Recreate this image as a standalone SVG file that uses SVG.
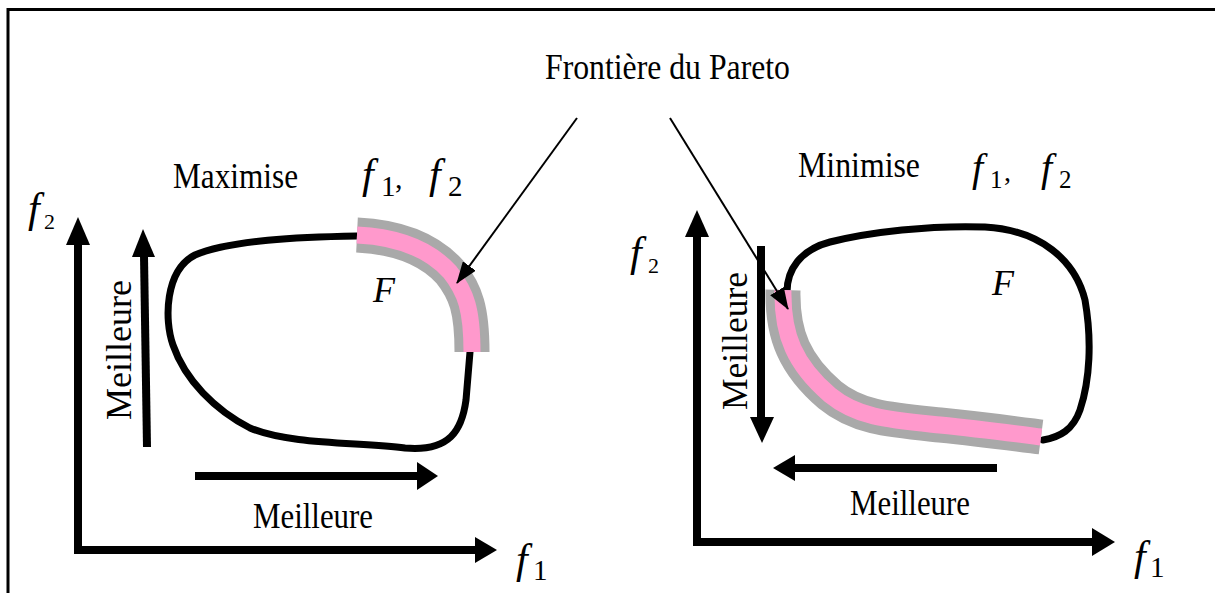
<svg xmlns="http://www.w3.org/2000/svg" width="1215" height="593" viewBox="0 0 1215 593">
<style>
.t{font-family:"Liberation Serif","Times New Roman",serif;fill:#000}
.i{font-family:"Liberation Serif","Times New Roman",serif;font-style:italic;fill:#000}
.ax{fill:none;stroke:#000;stroke-width:8;stroke-linejoin:miter}
.thick{fill:none;stroke:#000;stroke-width:8}
.hd{fill:#000}
.reg{fill:none;stroke:#000;stroke-width:7;stroke-linecap:round}
.bandg{fill:none;stroke:#a9a9a9;stroke-width:35}
.bandp{fill:none;stroke:#ff99cc;stroke-width:17}
.thin{fill:none;stroke:#000;stroke-width:2}
</style>
<defs>
<marker id="ah" markerUnits="userSpaceOnUse" markerWidth="22" markerHeight="16" refX="21" refY="8" orient="auto">
<path d="M0,0 L22,8 L0,16 z" fill="#000"/>
</marker>
</defs>
<rect width="1215" height="593" fill="#fff"/>
<path d="M8,593 V9.5 H1215" fill="none" stroke="#000" stroke-width="3"/>

<g id="title">
<text class="t" x="545" y="79" font-size="35" textLength="245" lengthAdjust="spacingAndGlyphs">Frontière du Pareto</text>
</g>

<g id="left-panel">
<g id="left-axes">
<path class="ax" d="M78,243 V550 H477"/>
<polygon class="hd" points="66,245 78,217 90,245"/>
<polygon class="hd" points="475,537 497,550 475,563"/>
<text class="i" x="28" y="222" font-size="42">f</text>
<text class="t" x="44" y="229" font-size="22">2</text>
<text class="i" x="516" y="573" font-size="42">f</text>
<text class="t" x="533" y="580" font-size="29">1</text>
</g>
<g id="left-labels">
<text class="t" x="173" y="188" font-size="35" textLength="125" lengthAdjust="spacingAndGlyphs">Maximise</text>
<text class="i" x="362" y="188" font-size="42">f</text>
<text class="t" x="381" y="196" font-size="29">1</text>
<text class="t" x="395" y="188" font-size="30">,</text>
<text class="i" x="429" y="188" font-size="42">f</text>
<text class="t" x="448" y="196" font-size="29">2</text>
</g>
<g id="left-region">
<path class="reg" d="M357,236 C300,237 230,240 195,255 C165,270 164,320 173,345 C185,380 215,410 250,428 C290,445 360,442 405,448 C450,452 462,430 466,400 L470,352"/>
<path class="bandg" d="M357,235 C400,237 430,250 450,272 C466,292 472,310 472,352"/>
<path class="bandp" d="M357,235 C400,237 430,250 450,272 C466,292 472,310 472,352"/>
<text class="i" x="373" y="302" font-size="36">F</text>
</g>
<g id="left-better">
<path class="thick" d="M147,447 L144,256" stroke-width="7"/>
<polygon class="hd" points="132,257 143,229 155,257"/>
<text class="t" transform="translate(131,420) rotate(-90)" font-size="35" textLength="140" lengthAdjust="spacingAndGlyphs">Meilleure</text>
<path class="thick" d="M195,476 H418"/>
<polygon class="hd" points="417,462 438,476 417,490"/>
<text class="t" x="253" y="528" font-size="35" textLength="120" lengthAdjust="spacingAndGlyphs">Meilleure</text>
</g>
</g>

<g id="right-panel">
<g id="right-axes">
<path class="ax" d="M697,236 V542 H1093"/>
<polygon class="hd" points="685,237 697,210 709,237"/>
<polygon class="hd" points="1092,528 1115,542 1092,556"/>
<text class="i" x="630" y="266" font-size="42">f</text>
<text class="t" x="648" y="273" font-size="22">2</text>
<text class="i" x="1134" y="570" font-size="42">f</text>
<text class="t" x="1150" y="577" font-size="29">1</text>
</g>
<g id="right-labels">
<text class="t" x="798" y="177" font-size="35" textLength="122" lengthAdjust="spacingAndGlyphs">Minimise</text>
<text class="i" x="972" y="181" font-size="40">f</text>
<text class="t" x="990" y="188" font-size="25">1</text>
<text class="t" x="1004" y="181" font-size="28">,</text>
<text class="i" x="1041" y="181" font-size="40">f</text>
<text class="t" x="1059" y="188" font-size="25">2</text>
</g>
<g id="right-region">
<path class="reg" d="M787,292 C787,270 800,250 830,242 C870,232 930,225 985,227 C1040,230 1075,260 1085,300 C1092,340 1090,380 1080,410 C1073,430 1060,437 1043,440"/>
<path class="bandg" d="M783,290 C782,335 795,365 830,395 C858,418 890,420 940,425 C980,429 1010,433 1041,437"/>
<path class="bandp" d="M783,290 C782,335 795,365 830,395 C858,418 890,420 940,425 C980,429 1010,433 1041,437"/>
<text class="i" x="992" y="295" font-size="36">F</text>
</g>
<g id="right-better">
<path class="thick" d="M761,246 V418"/>
<polygon class="hd" points="750,417 762,443 774,417"/>
<text class="t" transform="translate(747,410) rotate(-90)" font-size="35" textLength="138" lengthAdjust="spacingAndGlyphs">Meilleure</text>
<path class="thick" d="M997,468 H794"/>
<polygon class="hd" points="795,455 773,468 795,481"/>
<text class="t" x="850" y="515" font-size="35" textLength="120" lengthAdjust="spacingAndGlyphs">Meilleure</text>
</g>
</g>

<g id="connectors">
<line class="thin" x1="577" y1="118" x2="457" y2="283" marker-end="url(#ah)"/>
<line class="thin" x1="670" y1="118" x2="788" y2="309" marker-end="url(#ah)"/>
</g>
</svg>
